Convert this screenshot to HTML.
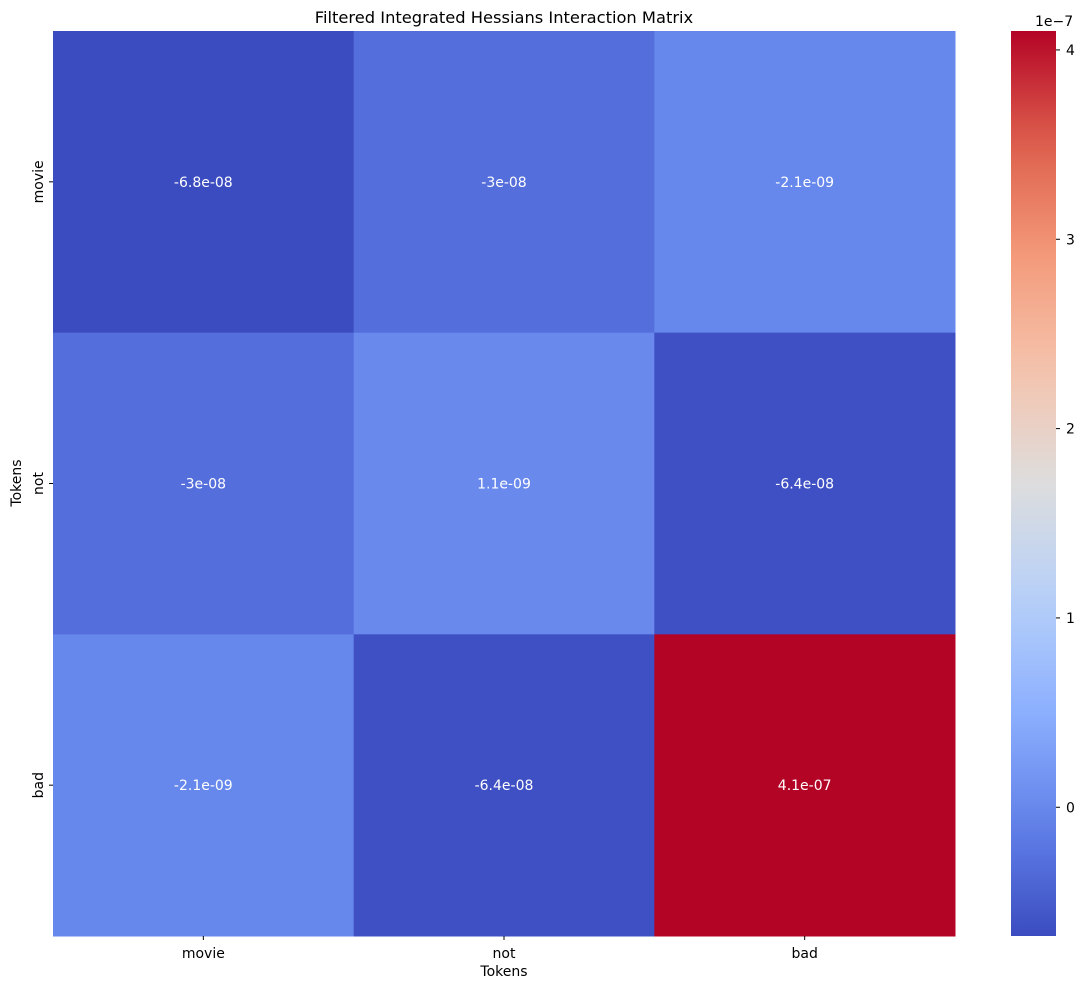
<!DOCTYPE html>
<html><head><meta charset="utf-8"><style>
body{margin:0;background:#fff;}
svg{display:block;font-family:"DejaVu Sans","Liberation Sans",sans-serif;}
</style></head><body>
<svg id="chart" width="1084" height="989">
<defs><linearGradient id="cbgrad" x1="0" y1="1" x2="0" y2="0"></linearGradient></defs>
<text x="504" y="23" font-size="16.3" text-anchor="middle">Filtered Integrated Hessians Interaction Matrix</text>
<g id="cells"></g>
<g id="xticks"></g>
<g id="yticks"></g>
<text x="504" y="976" font-size="14" text-anchor="middle">Tokens</text>
<text transform="translate(21,483) rotate(-90)" font-size="14" text-anchor="middle">Tokens</text>
<rect x="1011" y="31" width="45" height="905" fill="url(#cbgrad)"/>
<g id="cbticks"></g>
<text x="1035" y="26" font-size="14">1e−7</text>
</svg>
<script>
const xCategories = ["movie","not","bad"];
const yCategories = ["movie","not","bad"];
const values = [
  [-6.8e-8, -3e-8, -2.1e-9],
  [-3e-8, 1.1e-9, -6.4e-8],
  [-2.1e-9, -6.4e-8, 4.1e-7]
];
const cellLabels = [
  ["-6.8e-08","-3e-08","-2.1e-09"],
  ["-3e-08","1.1e-09","-6.4e-08"],
  ["-2.1e-09","-6.4e-08","4.1e-07"]
];
const colorbarTicks = [0,1,2,3,4];
const colorbarTickLabels = ["0","1","2","3","4"];

const NS="http://www.w3.org/2000/svg";
const flat=values.flat();
const vmin=Math.min(...flat), vmax=Math.max(...flat);
const X0=53,X1=955,Y0=31,Y1=936;
const cw=(X1-X0)/xCategories.length, ch=(Y1-Y0)/yCategories.length;
const stops=[[0,[59,76,192]],[0.125,[98,130,234]],[0.25,[141,176,254]],[0.375,[184,208,249]],[0.5,[221,221,221]],[0.625,[245,196,173]],[0.75,[244,154,123]],[0.875,[222,96,77]],[1,[180,4,38]]];
function cmap(t){t=Math.max(0,Math.min(1,t));for(let i=1;i<stops.length;i++){if(t<=stops[i][0]){const a=stops[i-1],b=stops[i],f=(t-a[0])/(b[0]-a[0]);return "rgb("+a[1].map((c,k)=>Math.round(c+(b[1][k]-c)*f)).join(",")+")";}}return "rgb(180,4,38)";}
function mk(tag,attrs,parent){const e=document.createElementNS(NS,tag);for(const k in attrs)e.setAttribute(k,attrs[k]);parent.appendChild(e);return e;}
const cells=document.getElementById('cells');
values.forEach((row,i)=>row.forEach((v,j)=>{
  const r=mk('rect',{x:X0+j*cw,y:Y0+i*ch,width:cw+0.5,height:ch+0.5,fill:cmap((v-vmin)/(vmax-vmin))},cells);
  
  
  const t=mk('text',{x:X0+(j+0.5)*cw,y:Y0+(i+0.5)*ch+5,'font-size':14,'text-anchor':'middle',fill:'#fff'},cells);
  t.textContent=cellLabels[i][j];
  
  
}));
const xt=document.getElementById('xticks');
xCategories.forEach((c,j)=>{
  const x=X0+(j+0.5)*cw;
  mk('line',{x1:x,x2:x,y1:Y1,y2:Y1+4,stroke:'#000'},xt);
  const t=mk('text',{x:x,y:Y1+22,'font-size':14,'text-anchor':'middle'},xt);
  t.textContent=c;
  
  
});
const yt=document.getElementById('yticks');
yCategories.forEach((c,i)=>{
  const y=Y0+(i+0.5)*ch;
  mk('line',{x1:X0-4,x2:X0,y1:y,y2:y,stroke:'#000'},yt);
  const t=mk('text',{transform:'translate('+(X0-10)+','+y+') rotate(-90)','font-size':14,'text-anchor':'middle'},yt);
  t.textContent=c;
  
  
});
const g=document.getElementById('cbgrad');
for(let k=0;k<=20;k++){mk('stop',{offset:k/20,'stop-color':cmap(k/20)},g);}
const cb=document.getElementById('cbticks');
colorbarTicks.forEach((v,k)=>{
  const y=Y1-(v*1e-7-vmin)/(vmax-vmin)*(Y1-Y0);
  mk('line',{x1:1056,x2:1060,y1:y,y2:y,stroke:'#000'},cb);
  const t=mk('text',{x:1066,y:y+5,'font-size':14},cb);
  t.textContent=colorbarTickLabels[k];
  
  
});
</script>
</body></html>
